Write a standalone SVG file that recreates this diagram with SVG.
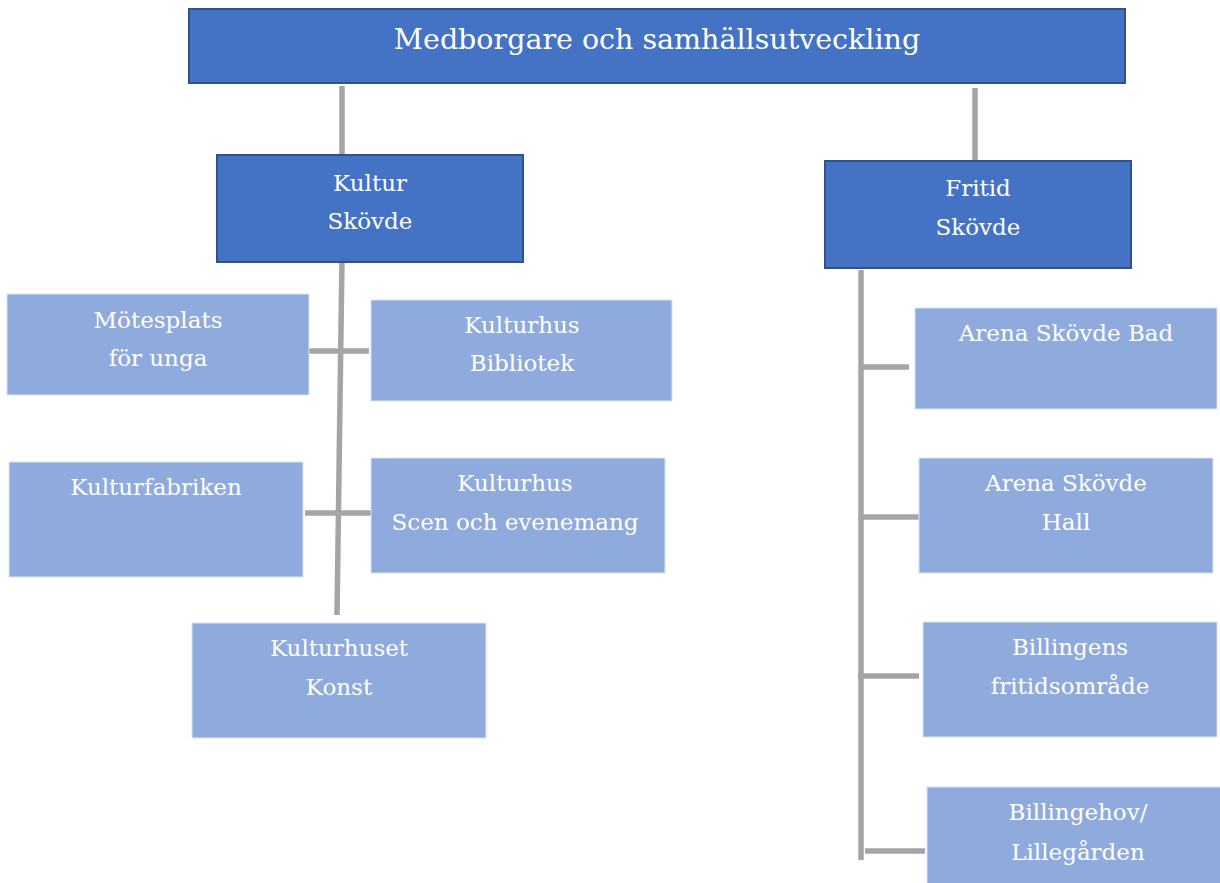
<svg xmlns="http://www.w3.org/2000/svg" width="1220" height="883" viewBox="0 0 1220 883">
<style>
.dark{fill:#4472C4;stroke:#2F528F;stroke-width:2}
.light{fill:#8FAADC;stroke:#DAE3F3;stroke-width:1}
.t{font-family:"DejaVu Serif","Liberation Serif",serif;fill:#FFFFFF;text-anchor:middle;font-size:23px}
.big{font-size:28.5px}
.c{stroke:#A5A5A5;stroke-width:5.5;fill:none}
</style>
<rect width="1220" height="883" fill="#FFFFFF"/>
<g id="connectors">
<line class="c" x1="342" y1="86" x2="342" y2="155"/>
<line class="c" x1="975" y1="88" x2="975" y2="160"/>
<line class="c" x1="342" y1="258" x2="337" y2="615"/>
<line class="c" x1="309" y1="351" x2="369" y2="351"/>
<line class="c" x1="305" y1="513" x2="371" y2="513"/>
<line class="c" x1="861" y1="270" x2="861" y2="860"/>
<line class="c" x1="861" y1="367" x2="909" y2="367"/>
<line class="c" x1="861" y1="517" x2="921" y2="517"/>
<line class="c" x1="858" y1="676" x2="919" y2="676"/>
<line class="c" x1="865" y1="851" x2="925" y2="851"/>
</g>
<g id="root">
<rect class="dark" x="189" y="9" width="936" height="74"/>
<text class="t big" x="657" y="49">Medborgare och samhällsutveckling</text>
</g>
<g id="kultur">
<rect class="dark" x="217" y="155" width="306" height="107"/>
<text class="t" x="370" y="191">Kultur</text>
<text class="t" x="370" y="229">Skövde</text>
</g>
<g id="fritid">
<rect class="dark" x="825" y="161" width="306" height="107"/>
<text class="t" x="978" y="196">Fritid</text>
<text class="t" x="978" y="235">Skövde</text>
</g>
<g id="motesplats">
<rect class="light" x="7" y="294" width="302" height="101"/>
<text class="t" x="158" y="328">Mötesplats</text>
<text class="t" x="158" y="366">för unga</text>
</g>
<g id="bibliotek">
<rect class="light" x="371" y="300" width="301" height="101"/>
<text class="t" x="522" y="333">Kulturhus</text>
<text class="t" x="522" y="371">Bibliotek</text>
</g>
<g id="kulturfabriken">
<rect class="light" x="9" y="462" width="294" height="115"/>
<text class="t" x="156" y="495">Kulturfabriken</text>
</g>
<g id="scen">
<rect class="light" x="371" y="458" width="294" height="115"/>
<text class="t" x="515" y="491">Kulturhus</text>
<text class="t" x="515" y="530">Scen och evenemang</text>
</g>
<g id="konst">
<rect class="light" x="192" y="623" width="294" height="115"/>
<text class="t" x="339" y="656">Kulturhuset</text>
<text class="t" x="339" y="695">Konst</text>
</g>
<g id="bad">
<rect class="light" x="915" y="308" width="302" height="101"/>
<text class="t" x="1066" y="341">Arena Skövde Bad</text>
</g>
<g id="hall">
<rect class="light" x="919" y="458" width="294" height="115"/>
<text class="t" x="1066" y="491">Arena Skövde</text>
<text class="t" x="1066" y="530">Hall</text>
</g>
<g id="billingens">
<rect class="light" x="923" y="622" width="294" height="115"/>
<text class="t" x="1070" y="655">Billingens</text>
<text class="t" x="1070" y="694">fritidsområde</text>
</g>
<g id="billingehov">
<rect class="light" x="927" y="787" width="294" height="97"/>
<text class="t" x="1078" y="820">Billingehov/</text>
<text class="t" x="1078" y="860">Lillegården</text>
</g>
</svg>
